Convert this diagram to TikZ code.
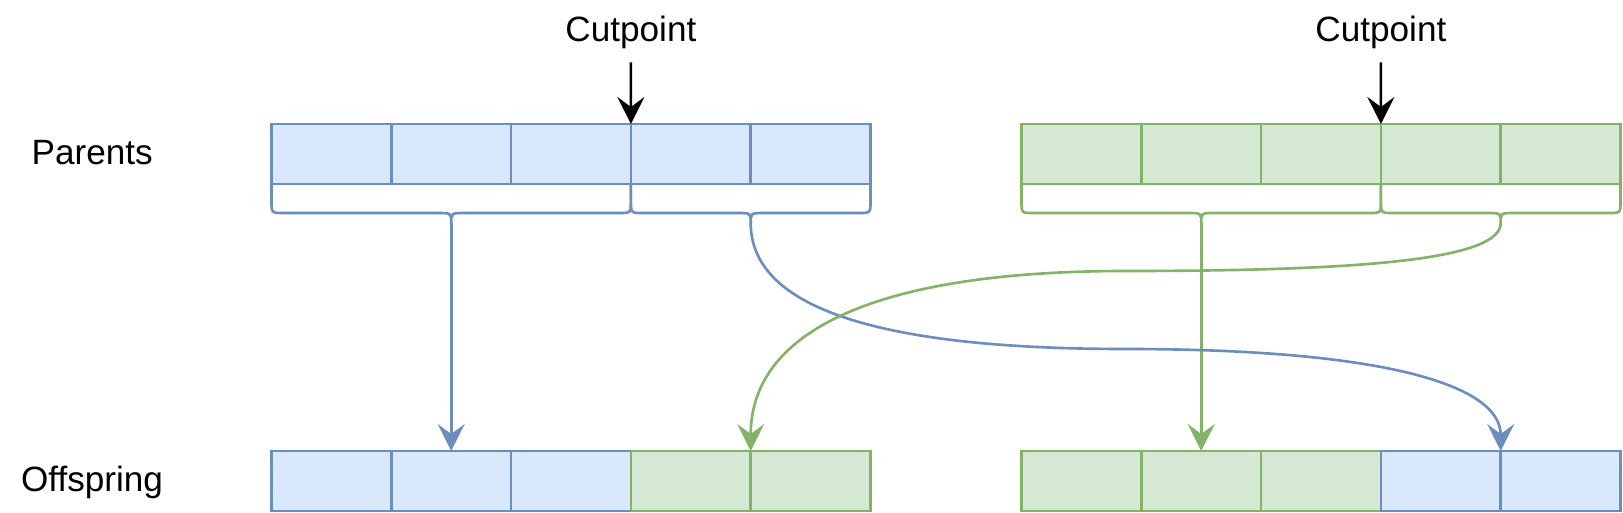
\documentclass[tikz,border=0pt]{standalone}
\usepackage{fontspec}
\setmainfont{Liberation Sans}
\usetikzlibrary{arrows.meta}
\definecolor{bluefill}{HTML}{DAE8FC}
\definecolor{bluedraw}{HTML}{6C8EBF}
\definecolor{greenfill}{HTML}{D5E8D4}
\definecolor{greendraw}{HTML}{82B366}

\begin{document}
\begin{tikzpicture}[x=0.02cm, y=-0.02cm, line width=1.5pt,
	cell/.style={draw, minimum width=2.396cm, minimum height=1.2cm, inner sep=0pt, outer sep=0pt},
	bluecell/.style={cell, draw=bluedraw, fill=bluefill},
	greencell/.style={cell, draw=greendraw, fill=greenfill},
	rowtext/.style={font=\fontsize{20}{24}\selectfont, inner sep=6.8pt},
	headtip/.style={-{Stealth[length=0.54cm, width=0.54cm, inset=0.2cm]}},
	cutarrow/.style={headtip, black},
	bluelink/.style={headtip, bluedraw},
	greenlink/.style={headtip, greendraw}]
	\useasboundingbox (0,0) rectangle (1623,513);
%	\draw[gray!50, dashed, step=50] (0,0) grid (1623,513);
	\node[rowtext, anchor=base] (parents) at (92.2,164.3) {Parents};
	\node[rowtext, anchor=base] (offspring) at (92,491.7) {Offspring};
	
	\node[bluecell] (pa1) at (331.4,154) {};
	\node[bluecell] (pa2) at (451.2,154) {};
	\node[bluecell] (pa3) at (571.0,154) {};
	\node[bluecell] (pa4) at (690.8,154) {};
	\node[bluecell] (pa5) at (810.6,154) {};
	\node[greencell] (pb1) at (1081.4,154) {};
	\node[greencell] (pb2) at (1201.2,154) {};
	\node[greencell] (pb3) at (1321.0,154) {};
	\node[greencell] (pb4) at (1440.8,154) {};
	\node[greencell] (pb5) at (1560.6,154) {};
	
	\node[bluecell] (oa1) at (331.4,481) {};
	\node[bluecell] (oa2) at (451.2,481) {};
	\node[bluecell] (oa3) at (571.0,481) {};
	\node[greencell] (oa4) at (690.8,481) {};
	\node[greencell] (oa5) at (810.6,481) {};
	\node[greencell] (ob1) at (1081.4,481) {};
	\node[greencell] (ob2) at (1201.2,481) {};
	\node[greencell] (ob3) at (1321.0,481) {};
	\node[bluecell] (ob4) at (1440.8,481) {};
	\node[bluecell] (ob5) at (1560.6,481) {};
	
	\node[rowtext, anchor=base] (cutA) at (630.9,41.7) {Cutpoint};
	\node[rowtext, anchor=base] (cutB) at (1380.9,41.7) {Cutpoint};
	\draw[cutarrow] (cutA.south) -- (pa3.north east);
	\draw[cutarrow] (cutB.south) -- (pb3.north east);
	
	% braces under the parents
	\draw[bluedraw] (271.5,184) -- (271.5,201) .. controls (271.5,213) .. (283.5,213) -- (437.2,213) 
	.. controls (451.2,213) .. (451.2,223) .. controls (451.2,213) .. (465.2,213) -- (618.9,213) 
	.. controls (630.9,213) .. (630.9,201) -- (630.9,184);
	\draw[bluedraw] (630.9,184) -- (630.9,201) .. controls (630.9,213) .. (642.9,213) -- (736.7,213) 
	.. controls (750.7,213) .. (750.7,223) .. controls (750.7,213) .. (764.7,213) -- (858.5,213) 
	.. controls (870.5,213) .. (870.5,201) -- (870.5,184);
	\draw[greendraw] (1021.5,184) -- (1021.5,201) .. controls (1021.5,213) .. (1033.5,213) -- (1187.2,213) 
	.. controls (1201.2,213) .. (1201.2,223) .. controls (1201.2,213) .. (1215.2,213) -- (1368.9,213) 
	.. controls (1380.9,213) .. (1380.9,201) -- (1380.9,184);
	\draw[greendraw] (1380.9,184) -- (1380.9,201) .. controls (1380.9,213) .. (1392.9,213) -- (1486.7,213) 
	.. controls (1500.7,213) .. (1500.7,223) .. controls (1500.7,213) .. (1514.7,213) -- (1608.5,213) 
	.. controls (1620.5,213) .. (1620.5,201) -- (1620.5,184);
	
	\coordinate (tipA) at (451.2,223);
	\coordinate (tipB) at (750.7,223);
	\coordinate (tipC) at (1201.2,223);
	\coordinate (tipD) at (1500.7,223);
	\coordinate (bluemid) at (1125.7,349);
	\coordinate (greenmid) at (1125.7,271);
	
	\draw[bluelink] (tipA) -- (oa2.north);
	\draw[greenlink] (tipC) -- (ob2.north);
	\draw[bluelink] (tipB) .. controls (750.7,307) and (875.7,349) .. (bluemid) 
	.. controls (1375.7,349) and (1500.7,383) .. (ob4.north east);
	\draw[greenlink] (tipD) .. controls (1500.7,258) and (1375.7,271) .. (greenmid) 
	.. controls (875.7,271) and (750.7,331) .. (oa4.north east);
\end{tikzpicture}
\end{document}
